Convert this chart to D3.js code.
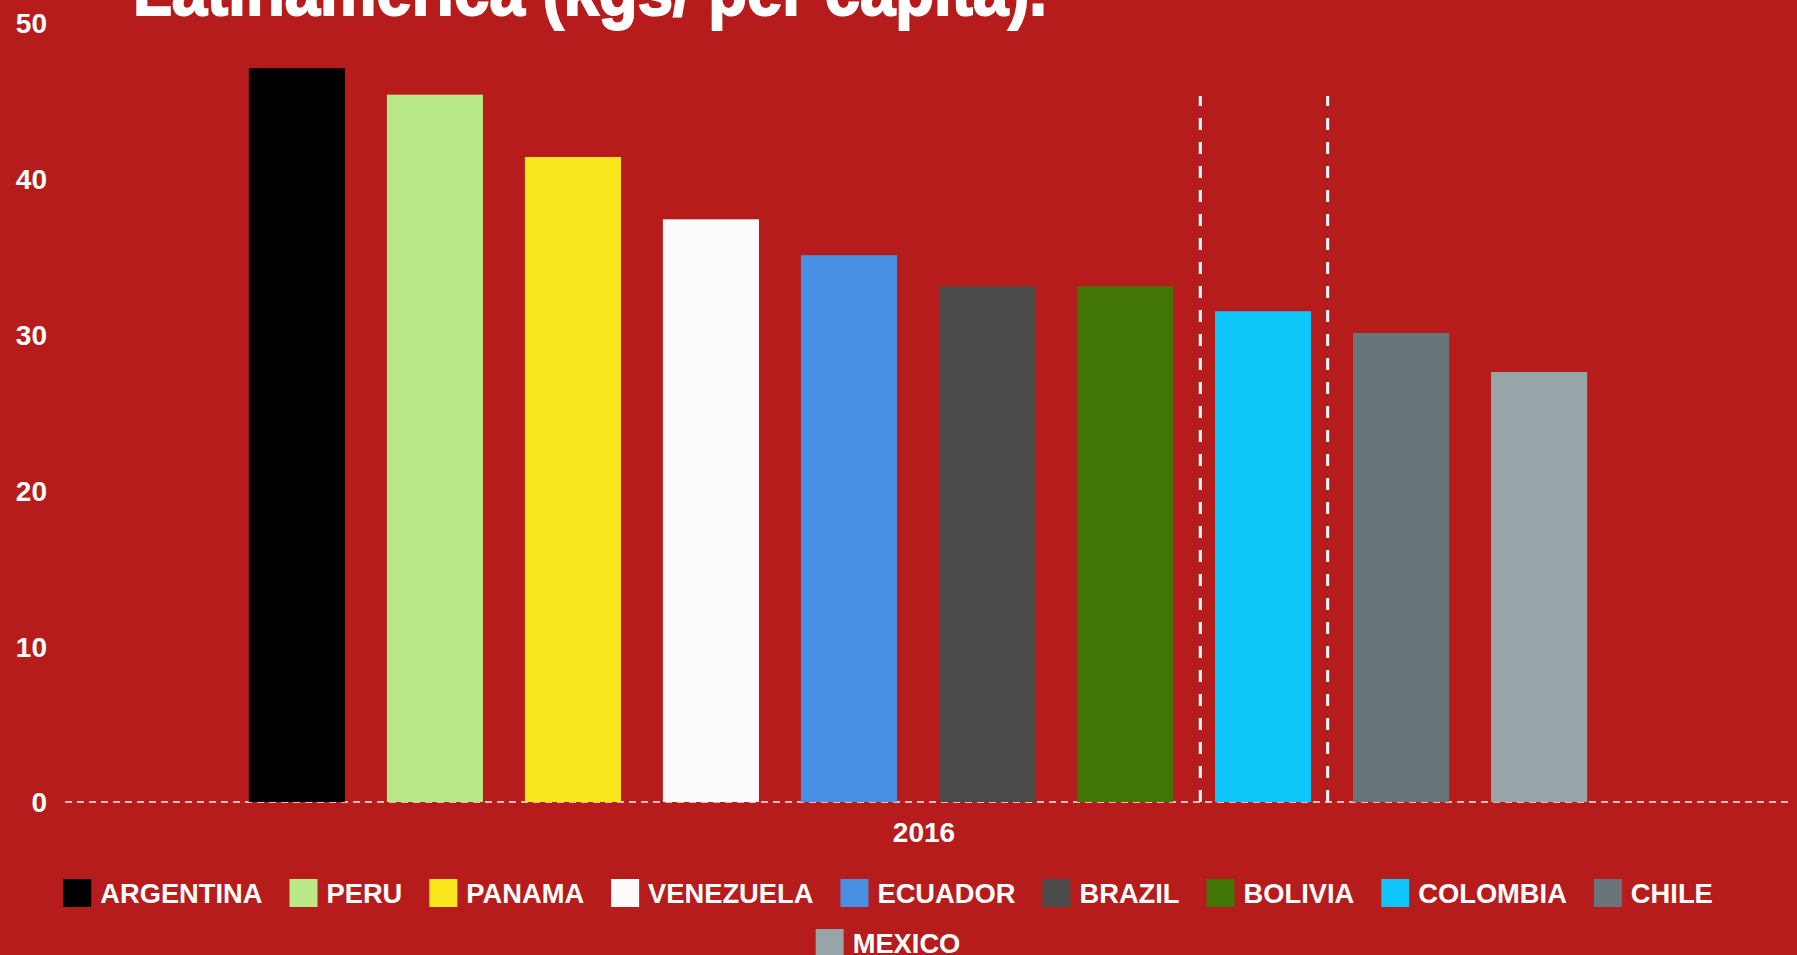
<!DOCTYPE html>
<html>
<head>
<meta charset="utf-8">
<script src="https://cdn.jsdelivr.net/npm/d3@7"></script>
<style>
  html, body { margin: 0; padding: 0; background: #b71c1c; overflow: hidden; }
  svg { display: block; font-family: "Liberation Sans", Arial, sans-serif; }
  .title { fill: #fff; stroke: #fff; stroke-width: 2; font-weight: bold; font-size: 70px; }
  .axis text { fill: #fff; font-weight: bold; font-size: 28px; }
  .axis .domain { display: none; }
  .grid line { stroke: #fff; stroke-opacity: 0.7; stroke-width: 2; stroke-dasharray: 7 5; }
  .marker { stroke: #fff; stroke-width: 3; stroke-dasharray: 12 12; }
  .legend text { fill: #fff; font-weight: bold; font-size: 27.3px; }
</style>
</head>
<body>
<div class="container"></div>
<script>
var margin = {
      top: 23,
      right: 7,
      bottom: 153,
      left: 65
    },
    width = 1797,
    height = 955,
    innerW = width - margin.left - margin.right,
    innerH = height - margin.top - margin.bottom;

// data
var years = ["2016"];
var countries = ["ARGENTINA", "PERU", "PANAMA", "VENEZUELA", "ECUADOR", "BRAZIL", "BOLIVIA", "COLOMBIA", "CHILE", "MEXICO"];
var values = [47.1, 45.4, 41.4, 37.4, 35.1, 33.1, 33.1, 31.5, 30.1, 27.6];
var colours = ["#000000", "#b8e986", "#f8e71c", "#fbfbfb", "#4a90e2", "#4a4a4a", "#417505", "#0ec6f9", "#697679", "#97a4a8"];
var yTicks = [0, 10, 20, 30, 40, 50];
var highlight = "COLOMBIA";

var svg = d3.select(".container").append("svg")
    .attr("width", width)
    .attr("height", height);

// title, mostly cut off at the top of the picture
svg.append("text")
    .attr("class", "title")
    .attr("x", 133)
    .attr("y", 15)
    .attr("textLength", 914)
    .attr("lengthAdjust", "spacingAndGlyphs")
    .text("Latinamerica (kgs/ per capita).");

var g = svg.append("g")
    .attr("transform", "translate(" + margin.left + "," + margin.top + ")");

var y = d3.scaleLinear()
    .domain([0, 50])
    .range([innerH, 0]);

var x0 = d3.scaleBand()
    .domain(years)
    .range([0, 1706])
    .paddingOuter(0.118);

var x1 = d3.scaleBand()
    .domain(countries)
    .range([0, x0.bandwidth()])
    .paddingInner(0.304)
    .paddingOuter(0.152);

// y axis labels
g.append("g")
    .attr("class", "axis")
    .attr("transform", "translate(-18,0)")
    .call(d3.axisLeft(y).tickValues(yTicks).tickSize(0).tickPadding(0))
    .selectAll("text").attr("dy", "0.35em");

// zero line
g.append("g")
    .attr("class", "grid")
    .selectAll("line")
    .data([0])
    .enter().append("line")
    .attr("x1", 0)
    .attr("x2", innerW)
    .attr("y1", function(d) { return y(d); })
    .attr("y2", function(d) { return y(d); });

var group = g.selectAll(".year")
    .data(years)
    .enter().append("g")
    .attr("class", "year")
    .attr("transform", function(d) { return "translate(" + x0(d) + ",0)"; });

group.selectAll("rect")
    .data(countries.map(function(c, i) { return { name: c, value: values[i], colour: colours[i] }; }))
    .enter().append("rect")
    .attr("x", function(d) { return x1(d.name); })
    .attr("width", x1.bandwidth())
    .attr("y", function(d) { return y(d.value); })
    .attr("height", function(d) { return y(0) - y(d.value); })
    .style("fill", function(d) { return d.colour; });

// dashed markers either side of the highlighted bar
var hc = x1(highlight) + x1.bandwidth() / 2;
group.selectAll(".marker")
    .data([-0.455, 0.468])
    .enter().append("line")
    .attr("class", "marker")
    .attr("x1", function(d) { return hc + d * x1.step(); })
    .attr("x2", function(d) { return hc + d * x1.step(); })
    .attr("y1", y(0))
    .attr("y2", 73);

// x axis label
g.append("g")
    .attr("class", "axis")
    .attr("transform", "translate(6," + (innerH + 30) + ")")
    .call(d3.axisBottom(x0).tickSize(0).tickPadding(0))
    .selectAll("text").attr("font-size", "31px").attr("dy", "0.35em");

// ---------- LEGEND ----------
var legend = svg.append("g").attr("class", "legend");
var sw = 28, gapText = 9, gapItem = 27, rowH = 50, maxW = 1700, centreX = 888, firstRow = 893;

var items = legend.selectAll(".item")
    .data(countries)
    .enter().append("g")
    .attr("class", "item");

items.append("rect")
    .attr("width", sw)
    .attr("height", sw)
    .attr("y", -sw / 2)
    .style("fill", function(d, i) { return colours[i]; });

items.append("text")
    .attr("x", sw + gapText)
    .attr("dy", "0.35em")
    .text(function(d) { return d; });

// wrap into centred rows
var rows = [[]], rowW = [0];
items.each(function() {
  var w = sw + gapText + this.querySelector("text").getComputedTextLength();
  var r = rows.length - 1;
  var add = (rows[r].length ? gapItem : 0) + w;
  if (rows[r].length && rowW[r] + add > maxW) {
    rows.push([]); rowW.push(0); r++;
    add = w;
  }
  rows[r].push({ node: this, w: w });
  rowW[r] += add;
});
rows.forEach(function(row, r) {
  var cx = centreX - rowW[r] / 2;
  row.forEach(function(it) {
    d3.select(it.node).attr("transform", "translate(" + cx + "," + (firstRow + r * rowH) + ")");
    cx += it.w + gapItem;
  });
});
</script>
</body>
</html>
